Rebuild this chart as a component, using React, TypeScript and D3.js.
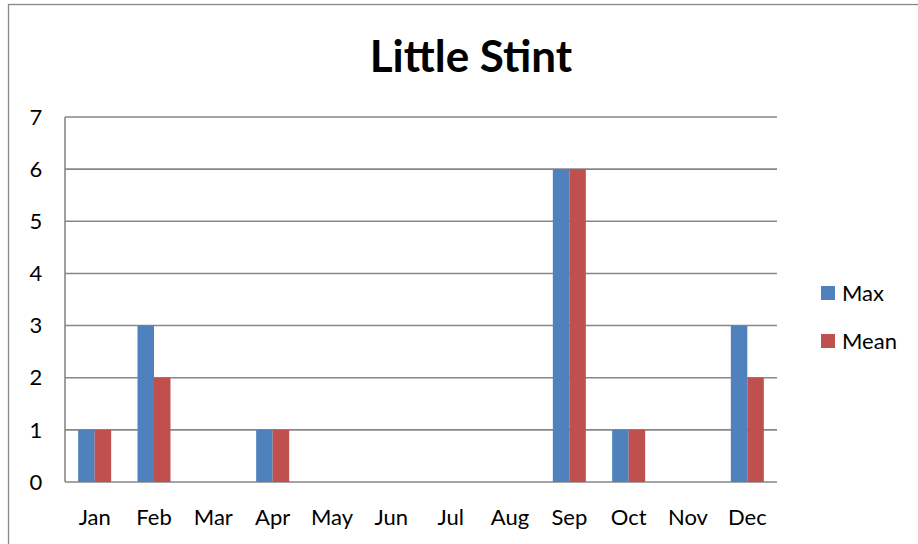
import * as d3 from "d3";

const MONTHS = ["Jan", "Feb", "Mar", "Apr", "May", "Jun", "Jul", "Aug", "Sep", "Oct", "Nov", "Dec"];
const MAX_VALUES = [1, 3, 0, 1, 0, 0, 0, 0, 6, 1, 0, 3];
const MEAN_VALUES = [1, 2, 0, 1, 0, 0, 0, 0, 6, 1, 0, 2];
const SERIES = ["Max", "Mean"];
const Y_TICKS = [0, 1, 2, 3, 4, 5, 6, 7];

const COLORS = ["#4F81BD", "#C0504D"];
const FONT = "Lato, 'Open Sans', sans-serif";

const W = 918;
const H = 544;
const PLOT = { left: 65, right: 777, top: 117, bottom: 482 };

export default function App() {
  const x = d3
    .scaleBand<string>()
    .domain(MONTHS)
    .range([PLOT.left, PLOT.right])
    .paddingInner(0.444)
    .paddingOuter(0.222);

  const xs = d3.scaleBand<string>().domain(SERIES).range([0, x.bandwidth()]);

  const y = d3.scaleLinear().domain([0, 7]).range([PLOT.bottom, PLOT.top]);

  const values = [MAX_VALUES, MEAN_VALUES];

  return (
    <svg
      width={W}
      height={H}
      style={{ position: "absolute", left: 0, top: 0, background: "white" }}
    >
      <rect x={8.5} y={4.5} width={1000} height={700} fill="white" stroke="#878787" strokeWidth={1.3} />

      <text
        x={471}
        y={72}
        textAnchor="middle"
        fontFamily={FONT}
        fontWeight="bold"
        fontSize={44}
        fill="#000"
      >
        Little Stint
      </text>

      {Y_TICKS.map((t) => (
        <g key={t}>
          <line
            x1={PLOT.left}
            x2={PLOT.right}
            y1={y(t)}
            y2={y(t)}
            stroke="#878787"
            strokeWidth={1.6}
          />
          <text
            x={36}
            y={y(t)}
            dy="0.35em"
            textAnchor="middle"
            fontFamily={FONT}
            fontSize={22}
            fill="#000"
          >
            {t}
          </text>
        </g>
      ))}

      <line
        x1={PLOT.left}
        x2={PLOT.left}
        y1={PLOT.top}
        y2={PLOT.bottom}
        stroke="#878787"
        strokeWidth={1.6}
      />

      {MONTHS.map((m, i) => (
        <g key={m}>
          {SERIES.map((s, j) => {
            const v = values[j][i];
            if (!v) return null;
            return (
              <rect
                key={s}
                x={(x(m) ?? 0) + (xs(s) ?? 0)}
                y={y(v)}
                width={xs.bandwidth()}
                height={y(0) - y(v)}
                fill={COLORS[j]}
              />
            );
          })}
          <text
            x={(x(m) ?? 0) + x.bandwidth() / 2}
            y={517}
            dy="0.35em"
            textAnchor="middle"
            fontFamily={FONT}
            fontSize={22}
            fill="#000"
          >
            {m}
          </text>
        </g>
      ))}

      {SERIES.map((s, j) => (
        <g key={s} transform={`translate(821,${293 + j * 48})`}>
          <rect x={0} y={-7} width={14} height={14} fill={COLORS[j]} />
          <text x={21} y={0} dy="0.35em" fontFamily={FONT} fontSize={22} fill="#000">
            {s}
          </text>
        </g>
      ))}
    </svg>
  );
}
